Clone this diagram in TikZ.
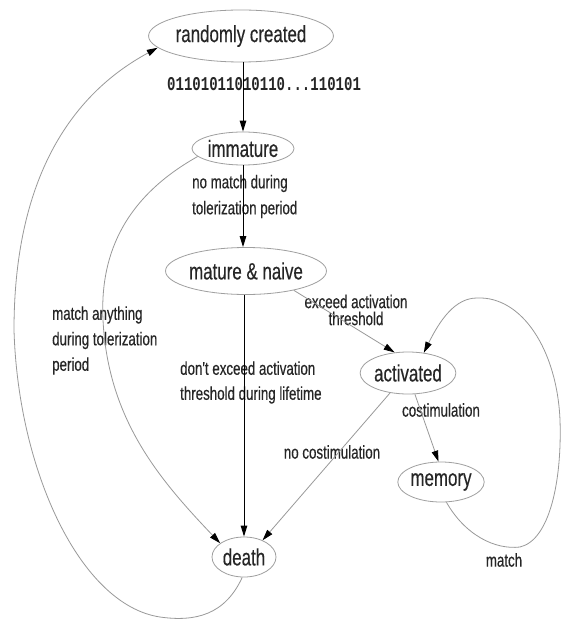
\documentclass[tikz,border=0pt]{standalone}
\usepackage{fontspec}
\usetikzlibrary{arrows.meta,shapes.geometric}
\newfontfamily\nodefont[FakeStretch=0.72,FakeBold=0.35]{Liberation Sans}
\newfontfamily\binfont[FakeStretch=0.72]{Liberation Mono}
\begin{document}
\begin{tikzpicture}[x=1pt,y=-1pt,
  state/.style={ellipse, draw=gray!75, line width=0.8pt, inner sep=0pt,
    font=\nodefont\fontsize{23.5}{23.5}\selectfont, text=black!85},
  lbl/.style={inner sep=0pt, font=\nodefont\fontsize{18.5}{26}\selectfont, text=black!85, align=left},
  mainedge/.style={draw=black, line width=1pt, -{Triangle[length=11pt,width=6.5pt]}},
  sideedge/.style={draw=gray!80, line width=0.8pt, -{Triangle[length=11pt,width=6.5pt,color=black]}}]
\fill[white] (0,0) rectangle (564,620);
\useasboundingbox (0,0) rectangle (564,620);

% states
\node[state, minimum width=162pt, minimum height=52pt] (rc) at (241,36) {randomly created};
\node[state, minimum width=102pt, minimum height=33pt] (im) at (243,148.5) {immature};
\node[state, minimum width=131pt, minimum height=47pt] (mn) at (246,271) {mature \& naive};
\node[state, minimum width=92pt, minimum height=42pt] (act) at (408,373) {activated};
\node[state, minimum width=78pt, minimum height=40pt] (mem) at (441,482) {memory};
\node[state, minimum width=64pt, minimum height=40pt] (death) at (244,557) {death};

% labels
\node[anchor=west, inner sep=0pt, text=black!85, font=\binfont\bfseries\fontsize{19.5}{20}\selectfont] (lbin) at (167,84) {01101011010110...110101};
\node[lbl, anchor=west] (l1) at (192,196.5) {no match during\\tolerization period};
\node[lbl, anchor=center, align=center, font=\nodefont\fontsize{18.5}{17}\selectfont] (l2) at (356,310) {exceed activation\\threshold};
\node[lbl, anchor=west, font=\nodefont\fontsize{18.5}{25.5}\selectfont] (l3) at (52,340.5) {match anything\\during tolerization\\period};
\node[lbl, anchor=west, font=\nodefont\fontsize{18.5}{25}\selectfont] (l4) at (180,382.5) {don't exceed activation\\threshold during lifetime};
\node[lbl, anchor=center] (l5) at (441,410) {costimulation};
\node[lbl, anchor=center] (l6) at (332,452) {no costimulation};
\node[lbl, anchor=center] (l7) at (504,560) {match};

% waypoints
\coordinate (o1) at (160,617);
\coordinate (o2) at (14,330);
\coordinate (i1) at (103,320);
\coordinate (r1) at (520,547);
\coordinate (r2) at (560,420);
\coordinate (r3) at (477,298);

% main edges
\draw[mainedge] (rc.south -| im.north) -- (im.north);
\draw[mainedge] (im.south) -- (im.south |- mn.north);
\draw[mainedge] (death.north |- mn.south) -- (death.north);

% side edges
\draw[sideedge] (mn.-22) -- (act.123);
\draw[sideedge] (act.-72) -- (mem.97);
\draw[sideedge] (act.-132) -- (death.42);
\draw[sideedge] (im.190) .. controls (120,200) and (100,260) .. (i1)
   .. controls (108,420) and (160,480) .. (death.150);
\draw[sideedge] (death.-95) .. controls (225,615) and (195,622) .. (o1)
   .. controls (80,605) and (18,470) .. (o2)
   .. controls (14,180) and (70,95) .. (rc.188);
\draw[sideedge] (mem.-75) .. controls (465,535) and (495,550) .. (r1)
   .. controls (550,540) and (562,480) .. (r2)
   .. controls (557,350) and (522,296) .. (r3)
   .. controls (455,298) and (440,320) .. (act.52);
\end{tikzpicture}
\end{document}
